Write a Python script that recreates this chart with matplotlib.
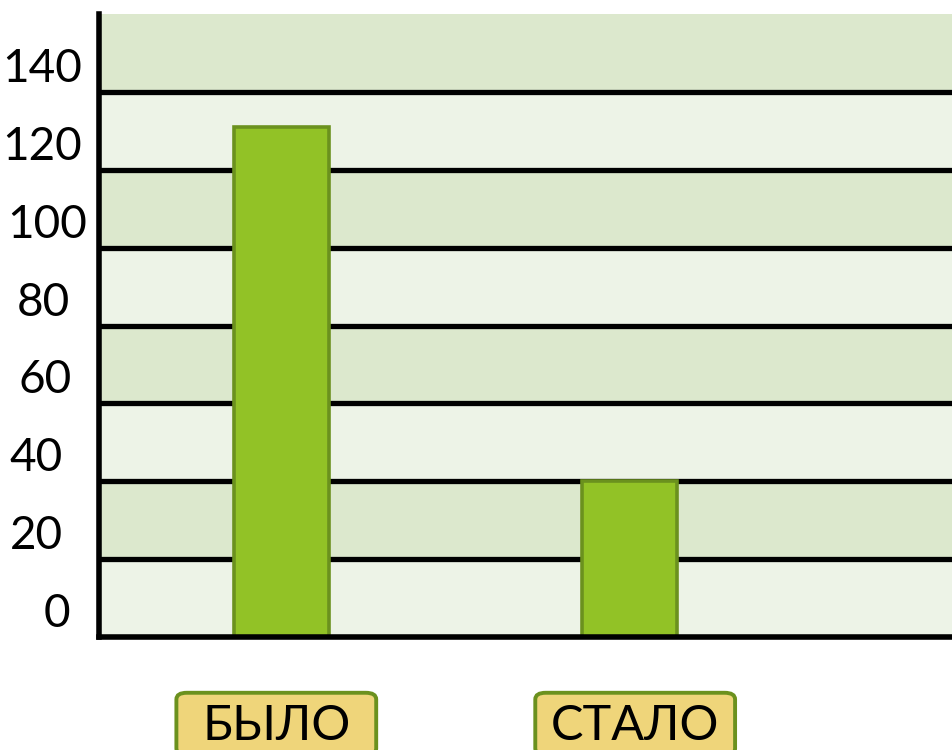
import matplotlib
matplotlib.use("Agg")
import matplotlib.pyplot as plt
from matplotlib.patches import FancyBboxPatch
import matplotlib.transforms as mtransforms

plt.rcParams['font.family'] = ['Lato', 'DejaVu Sans']

# данные
categories = ["БЫЛО", "СТАЛО"]
values = [131, 40]
tick_values = [0, 20, 40, 60, 80, 100, 120, 140]

fig = plt.figure(figsize=(9.53, 7.5), dpi=100)
ax = fig.add_axes([0.104, 0.151, 0.896, 0.830])

ax.set_xlim(-0.523, 1.93)
ax.set_ylim(0, 160)

# полосы фона
for i, lo in enumerate(range(0, 160, 20)):
    col = "#edf3e7" if i % 2 == 0 else "#dce8cd"
    ax.axhspan(lo, lo + 20, color=col, zorder=0, lw=0)

# линии сетки
for v in tick_values[1:]:
    ax.axhline(v, color="black", lw=3.8, zorder=1)

xs = range(len(categories))
ax.bar(xs, values, width=0.273, color="#92c226", edgecolor="#6b911e",
       linewidth=2.6, zorder=2)

for s in ["top", "right"]:
    ax.spines[s].set_visible(False)
ax.spines["left"].set_linewidth(4)
ax.spines["bottom"].set_linewidth(4)
ax.spines["left"].set_zorder(3)
ax.spines["bottom"].set_zorder(3)
ax.set_xticks([])
ax.set_yticks([])

# подписи оси Y (сдвиг правого края в пикселях от оси)
lbl_dx = [-29, -36, -36, -27, -29, -12, -17, -17]
for v, dx in zip(tick_values, lbl_dx):
    tr = mtransforms.offset_copy(ax.get_yaxis_transform(), fig=fig, x=dx, y=2, units="dots")
    ax.text(0, v, str(v), transform=tr, ha="right", va="bottom",
            fontsize=33, color="black", clip_on=False)

# подписи категорий в рамках
box_dx = [-0.014, 0.017]
tr = mtransforms.blended_transform_factory(ax.transData, ax.transAxes)
for x, name, dx in zip(xs, categories, box_dx):
    cx = x + dx
    box = FancyBboxPatch((cx - 0.287, -0.19), 0.574, 0.1,
                         boxstyle="round,pad=0,rounding_size=0.03",
                         transform=tr, facecolor="#efd57a", edgecolor="#6b911e",
                         linewidth=2.8, clip_on=False, mutation_aspect=0.35)
    ax.add_patch(box)
    ax.text(cx, -0.143, name, transform=tr, ha="center", va="center",
            fontsize=35, color="black", clip_on=False)

fig.savefig("out.png", dpi=100)
